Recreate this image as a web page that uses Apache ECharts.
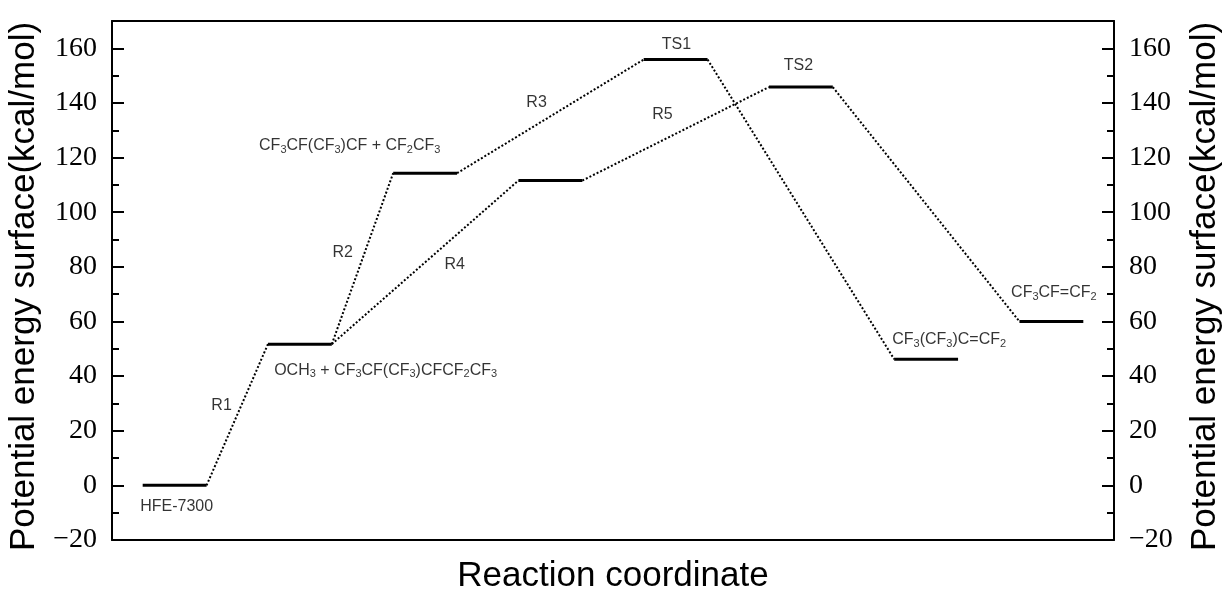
<!DOCTYPE html>
<html>
<head>
<meta charset="utf-8">
<script src="https://cdn.jsdelivr.net/npm/echarts@6/dist/echarts.min.js"></script>
<style>
html, body { margin: 0; padding: 0; background: #fff; }
#chart { width: 1232px; height: 603px; }
</style>
</head>
<body>
<div id="chart"></div>
<script>
// energy levels, in order along the reaction coordinate (kcal/mol)
var levelEnergy = [0, 51.7, 114.3, 111.6, 155.9, 145.8, 46.2, 60.0];
// dotted links: [from level, to level]
var links = [[0, 1], [1, 2], [1, 3], [2, 4], [3, 5], [4, 6], [5, 7]];
// text annotations: [rich text, x, y] in data units
var labelText = [
    'HFE-7300',
    'R1',
    '{n|OCH}{s|3}{n| + CF}{s|3}{n|CF(CF}{s|3}{n|)CFCF}{s|2}{n|CF}{s|3}',
    'R2',
    'R4',
    '{n|CF}{s|3}{n|CF(CF}{s|3}{n|)CF + CF}{s|2}{n|CF}{s|3}',
    'R3',
    'R5',
    'TS1',
    'TS2',
    '{n|CF}{s|3}{n|(CF}{s|3}{n|)C=CF}{s|2}',
    '{n|CF}{s|3}{n|CF=CF}{s|2}'
];
var labelX = [0.516, 0.875, 2.185, 1.842, 2.736, 1.898, 3.39, 4.395, 4.507, 5.48, 6.684, 7.52];
var labelY = [-7.8, 29.2, 42.2, 85.1, 80.7, 124.3, 140.3, 135.6, 161.2, 153.5, 53.4, 70.6];

var halfWidth = 0.255;

var series = [];
levelEnergy.forEach(function (e, i) {
    series.push({
        type: 'line',
        symbol: 'none',
        silent: true,
        lineStyle: { color: '#000', width: 3 },
        data: [[i + 0.5 - halfWidth, e], [i + 0.5 + halfWidth, e]],
        z: 3
    });
});
links.forEach(function (l) {
    var a = l[0], b = l[1];
    series.push({
        type: 'line',
        symbol: 'none',
        silent: true,
        lineStyle: { color: '#000', width: 2, type: 'dotted' },
        data: [[a + 0.5 + halfWidth, levelEnergy[a]], [b + 0.5 - halfWidth, levelEnergy[b]]],
        z: 2
    });
});
series.push({
    type: 'scatter',
    symbolSize: 0,
    silent: true,
    data: labelText.map(function (t, i) { return [labelX[i], labelY[i], t]; }),
    label: {
        show: true,
        position: 'inside',
        formatter: function (p) { return p.data[2]; },
        color: '#000',
        textBorderWidth: 0,
        fontSize: 16,
        fontFamily: 'Liberation Sans',
        rich: {
            n: { fontSize: 16, lineHeight: 16, fontFamily: 'Liberation Sans', color: '#000', textBorderWidth: 0 },
            s: { fontSize: 11, lineHeight: 11, padding: [8, 0, 0, 0], fontFamily: 'Liberation Sans', color: '#000', textBorderWidth: 0 }
        }
    }
});

function yAxisDef(pos) {
    return {
        type: 'value',
        position: pos,
        min: -20,
        max: 170,
        interval: 20,
        name: 'Potential energy surface(kcal/mol)',
        nameLocation: 'middle',
        nameGap: pos === 'left' ? 70 : 74,
        nameTextStyle: {
            fontSize: 35,
            fontFamily: 'Liberation Sans',
            color: '#000',
            padding: [0, 12, 0, 0]
        },
        axisLine: { show: true, onZero: false, lineStyle: { color: '#000', width: 2 } },
        axisTick: { show: true, inside: true, length: 12, lineStyle: { color: '#000', width: 2 } },
        minorTick: { show: true, splitNumber: 2, length: 7, lineStyle: { color: '#000', width: 2 } },
        axisLabel: {
            showMaxLabel: false,
            margin: 15,
            fontSize: 28,
            fontFamily: 'Liberation Serif',
            color: '#000',
            formatter: function (v) { return String(v).replace('-', '\u2212'); }
        },
        splitLine: { show: false }
    };
}

var chart = echarts.init(document.getElementById('chart'));
chart.setOption({
    animation: false,
    backgroundColor: '#fff',
    grid: { left: 112, right: 118, top: 21, bottom: 63, outerBoundsMode: 'none', containLabel: false },
    xAxis: [{
        type: 'value',
        min: 0,
        max: 8,
        position: 'bottom',
        name: 'Reaction coordinate',
        nameLocation: 'middle',
        nameGap: 19,
        nameTextStyle: { fontSize: 35, fontFamily: 'Liberation Sans', color: '#000' },
        axisLine: { show: true, onZero: false, lineStyle: { color: '#000', width: 2 } },
        axisTick: { show: false },
        axisLabel: { show: false },
        splitLine: { show: false }
    }, {
        type: 'value',
        min: 0,
        max: 8,
        position: 'top',
        axisLine: { show: true, onZero: false, lineStyle: { color: '#000', width: 2 } },
        axisTick: { show: false },
        axisLabel: { show: false },
        splitLine: { show: false }
    }],
    yAxis: [yAxisDef('left'), yAxisDef('right')],
    series: series
});
</script>
</body>
</html>
